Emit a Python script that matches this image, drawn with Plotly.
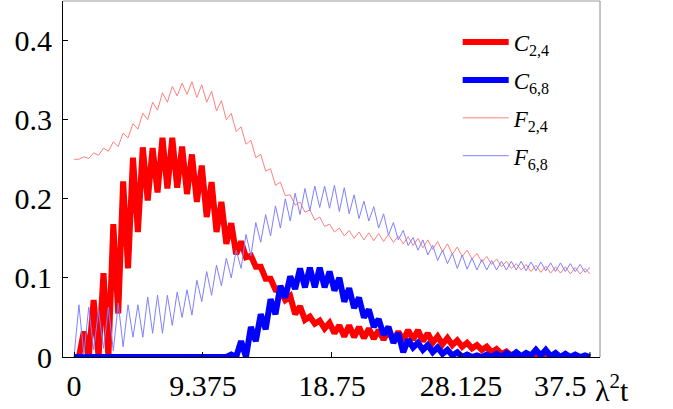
import plotly.graph_objects as go

# time grid (lambda^2 t), 106 samples from 0 to 37.5
t = [round(i * 37.5 / 105, 4) for i in range(106)]

C24 = [0, 0, 0.032, 0, 0.072, 0, 0.106, 0, 0.168, 0.055,
       0.222, 0.112, 0.252, 0.158, 0.265, 0.198, 0.264, 0.208, 0.277, 0.213,
       0.277, 0.214, 0.266, 0.206, 0.256, 0.196, 0.242, 0.177, 0.221, 0.158,
       0.196, 0.143, 0.169, 0.130, 0.146, 0.126, 0.128, 0.114, 0.114, 0.099,
       0.099, 0.085, 0.084, 0.072, 0.077, 0.054, 0.064, 0.047, 0.051, 0.042,
       0.046, 0.036, 0.043, 0.030, 0.040, 0.026, 0.040, 0.025, 0.038, 0.024,
       0.036, 0.023, 0.034, 0.022, 0.033, 0.021, 0.032, 0.021, 0.034, 0.022,
       0.034, 0.020, 0.030, 0.018, 0.026, 0.016, 0.024, 0.015, 0.021, 0.013,
       0.018, 0.011, 0.015, 0.009, 0.013, 0.006, 0.010, 0.004, 0.007, 0.002,
       0.005, 0, 0.004, 0, 0.002, 0, 0, 0, 0, 0,
       0, 0, 0, 0, 0, 0]

C68 = [0, 0, 0, 0, 0, 0, 0, 0, 0, 0,
       0, 0, 0, 0, 0, 0, 0, 0, 0, 0,
       0, 0, 0, 0, 0, 0, 0, 0, 0, 0,
       0, 0, 0.003, 0, 0.020, 0, 0.038, 0.020, 0.054, 0.035,
       0.073, 0.054, 0.090, 0.075, 0.102, 0.086, 0.112, 0.088, 0.113, 0.088,
       0.113, 0.088, 0.108, 0.084, 0.100, 0.070, 0.087, 0.062, 0.075, 0.050,
       0.060, 0.038, 0.048, 0.028, 0.038, 0.018, 0.030, 0.006, 0.022, 0.012,
       0.018, 0.009, 0.015, 0.006, 0.012, 0.004, 0.009, 0.002, 0.006, 0,
       0.003, 0, 0.002, 0, 0.003, 0, 0.004, 0, 0.005, 0.001,
       0.006, 0.001, 0.005, 0.002, 0.009, 0.002, 0.009, 0.001, 0.005, 0,
       0.004, 0, 0.003, 0, 0.002, 0]

F24 = [0.250, 0.250, 0.253, 0.251, 0.258, 0.255, 0.264, 0.260, 0.272, 0.266,
       0.283, 0.277, 0.295, 0.288, 0.308, 0.300, 0.322, 0.312, 0.334, 0.322,
       0.342, 0.330, 0.346, 0.332, 0.348, 0.328, 0.344, 0.322, 0.336, 0.311,
       0.324, 0.300, 0.308, 0.285, 0.291, 0.269, 0.274, 0.252, 0.256, 0.235,
       0.238, 0.217, 0.221, 0.204, 0.205, 0.192, 0.196, 0.183, 0.186, 0.173,
       0.177, 0.165, 0.168, 0.158, 0.163, 0.153, 0.160, 0.150, 0.158, 0.148,
       0.157, 0.147, 0.156, 0.146, 0.155, 0.145, 0.153, 0.143, 0.152, 0.141,
       0.150, 0.138, 0.148, 0.136, 0.146, 0.133, 0.143, 0.130, 0.139, 0.127,
       0.135, 0.124, 0.131, 0.120, 0.127, 0.117, 0.124, 0.114, 0.121, 0.112,
       0.118, 0.110, 0.117, 0.108, 0.116, 0.107, 0.115, 0.106, 0.114, 0.106,
       0.114, 0.105, 0.113, 0.105, 0.112, 0.105]

F68 = [0.000, 0.066, 0.003, 0.063, 0.009, 0.059, 0.011, 0.063, 0.008, 0.068,
       0.013, 0.066, 0.025, 0.066, 0.025, 0.076, 0.030, 0.078, 0.030, 0.078,
       0.040, 0.082, 0.050, 0.085, 0.053, 0.097, 0.070, 0.108, 0.078, 0.116,
       0.090, 0.125, 0.100, 0.135, 0.112, 0.155, 0.128, 0.170, 0.145, 0.180,
       0.153, 0.191, 0.163, 0.200, 0.172, 0.207, 0.180, 0.213, 0.185, 0.216,
       0.189, 0.216, 0.188, 0.217, 0.184, 0.214, 0.181, 0.205, 0.175, 0.197,
       0.172, 0.190, 0.163, 0.181, 0.154, 0.170, 0.148, 0.160, 0.141, 0.151,
       0.135, 0.148, 0.129, 0.141, 0.122, 0.135, 0.118, 0.131, 0.112, 0.129,
       0.111, 0.125, 0.110, 0.123, 0.110, 0.122, 0.110, 0.121, 0.110, 0.121,
       0.110, 0.121, 0.109, 0.120, 0.109, 0.120, 0.109, 0.119, 0.108, 0.119,
       0.108, 0.118, 0.108, 0.117, 0.107, 0.113]

series_names = ["<i>C</i><sub>2,4</sub>", "<i>C</i><sub>6,8</sub>",
                "<i>F</i><sub>2,4</sub>", "<i>F</i><sub>6,8</sub>"]
series_vals = [C24, C68, F24, F68]
series_colors = ["#ff0000", "#0000ff", "#ff8080", "#8080ff"]
series_widths = [6, 6, 1, 1]

x_tickvals = [0, 9.375, 18.75, 28.125, 37.5]
x_ticktext = ["0", "9.375", "18.75", "28.125", "37.5"]
y_tickvals = [0, 0.1, 0.2, 0.3, 0.4]
y_ticktext = ["0", "0.1", "0.2", "0.3", "0.4"]

FONT = "Liberation Serif"

fig = go.Figure()
for i, (nm, vals, col, w) in enumerate(zip(series_names, series_vals, series_colors, series_widths)):
    fig.add_trace(go.Scatter(x=t, y=vals, mode="lines", name=nm,
                             line=dict(color=col, width=w),
                             legendgroup=f"g{i}"))

fig.update_layout(
    width=673, height=409,
    margin=dict(l=63, r=73, t=1, b=52),
    paper_bgcolor="white", plot_bgcolor="white",
    font=dict(family=FONT, size=30, color="black"),
    showlegend=True,
    legend=dict(x=0.735, y=0.945, xanchor="left", yanchor="top",
                font=dict(family=FONT, size=23, color="black"),
                bgcolor="rgba(0,0,0,0)", tracegroupgap=5,
                itemwidth=46),
    xaxis=dict(range=[-0.8, 38.23], showgrid=False, zeroline=False,
               showline=True, linecolor="black", linewidth=1,
               ticks="inside", ticklen=5, tickcolor="black",
               tickvals=x_tickvals[:-1], ticktext=x_ticktext[:-1],
               ticklabelstandoff=2,
               tickfont=dict(family=FONT, size=30)),
    yaxis=dict(range=[0, 0.45], showgrid=False, zeroline=False,
               showline=True, linecolor="black", linewidth=1,
               ticks="inside", ticklen=5, tickcolor="black",
               tickvals=y_tickvals, ticktext=y_ticktext,
               ticklabelstandoff=4,
               tickfont=dict(family=FONT, size=30)),
)

# last x tick mark (label placed separately, right-aligned like the original)
fig.add_shape(type="line", xref="x", yref="paper", x0=x_tickvals[-1], x1=x_tickvals[-1],
              y0=0, y1=5 / 356, line=dict(color="black", width=1))
fig.add_annotation(x=x_tickvals[-1], y=0, xref="x", yref="paper",
                   text=x_ticktext[-1], showarrow=False,
                   xanchor="right", yanchor="top", xshift=-1, yshift=-10,
                   font=dict(family=FONT, size=30, color="black"))
fig.add_annotation(x=(593 - 63) / 537, y=0, xref="paper", yref="paper",
                   text="λ<sup>2</sup>t", showarrow=False,
                   xanchor="left", yanchor="top", yshift=-10,
                   font=dict(family=FONT, size=30, color="black"))
# grey top and right frame
fig.add_shape(type="line", xref="paper", yref="paper", x0=0, x1=1, y0=1, y1=1,
              line=dict(color="#999999", width=1))
fig.add_shape(type="line", xref="paper", yref="paper", x0=1, x1=1, y0=0, y1=1,
              line=dict(color="#888888", width=1))

fig.write_html("out.html")
